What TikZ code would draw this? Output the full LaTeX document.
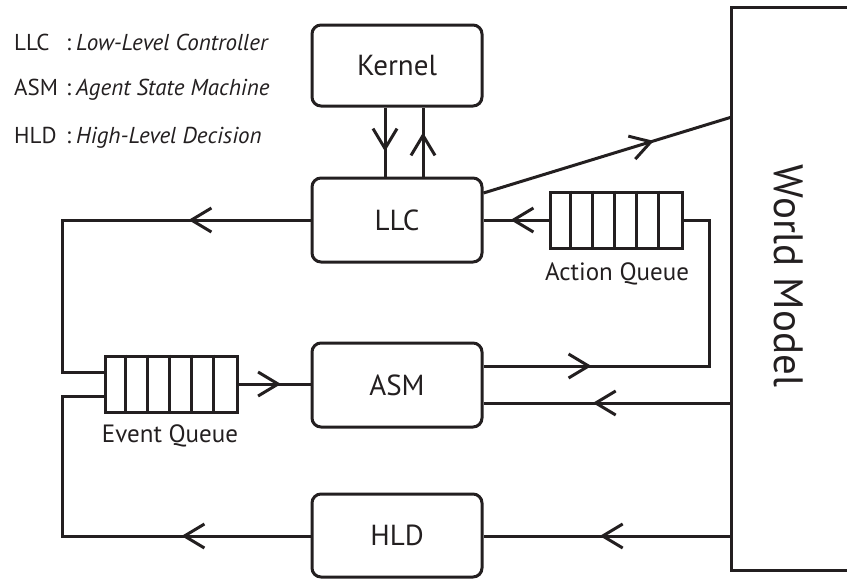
\documentclass[tikz,border=0pt]{standalone}
\usepackage{fontspec}
\setmainfont{PT Sans}
\usetikzlibrary{arrows.meta,decorations.markings}
\definecolor{ink}{HTML}{231F20}
\tikzset{chev/.tip={Straight Barb[length=20pt,width=24pt,line width=3pt]}}
\begin{document}
\begin{tikzpicture}[x=1pt,y=-1pt,
  box/.style={draw=ink, line width=3pt, rounded corners=9pt, minimum width=170pt, minimum height=84pt, inner sep=0pt, text=ink, font=\fontsize{29}{34}\selectfont},
  queue/.style={draw=ink, line width=3pt, minimum width=132pt, minimum height=56pt, inner sep=0pt},
  cell/.style={draw=ink, line width=3pt},
  conn/.style={draw=ink, line width=3pt},
  midarrow/.style={postaction={decorate}, decoration={markings, mark=at position #1 with {\arrow[ink]{chev}}}},
  lbl/.style={text=ink, inner sep=0pt, font=\fontsize{25}{30}\selectfont},
  leg/.style={text=ink, inner sep=0pt, anchor=base west, font=\fontsize{23}{28}\selectfont},
  legi/.style={text=ink, inner sep=0pt, anchor=base west, font=\fontsize{23}{28}\selectfont\itshape}]
\useasboundingbox (0,0) rectangle (847,579);

% legend
\node[leg] (l1) at (14,50) {LLC};
\node[leg] (c1) at (66,50) {:};
\node[legi] (d1) at (76,50) {Low-Level Controller};
\node[leg] (l2) at (14,95) {ASM};
\node[leg] (c2) at (66,95) {:};
\node[legi] (d2) at (76,95) {Agent State Machine};
\node[leg] (l3) at (14,143) {HLD};
\node[leg] (c3) at (66,143) {:};
\node[legi] (d3) at (76,143) {High-Level Decision};

% boxes
\node[box, minimum height=81pt] (kernel) at (397,65.5) {Kernel};
\node[box] (llc) at (397,220) {LLC};
\node[box] (asm) at (397,385) {ASM};
\node[box, minimum height=83pt] (hld) at (397,535.5) {HLD};

% world model
\node[minimum width=115pt, minimum height=562pt, inner sep=0pt] (wm) at (789.5,289) {};
\draw[ink, line width=3pt] ([xshift=5pt]wm.north east) -- (wm.north west) -- (wm.south west) -- ([xshift=5pt]wm.south east);
\node[text=ink, rotate=-90, inner sep=0pt, font=\fontsize{41}{48}\selectfont] (wmtxt) at (789,276) {World Model};

% queues
\node[queue] (aq) at (616,220) {};
\foreach \i in {1,...,5} \draw[cell] ([xshift=\i*22pt]aq.north west) -- ([xshift=\i*22pt]aq.south west);
\node[lbl] (aqt) at (617,274) {Action Queue};
\node[queue] (eq) at (171.5,384) {};
\foreach \i in {1,...,5} \draw[cell] ([xshift=\i*21.8pt]eq.north west) -- ([xshift=\i*21.8pt]eq.south west);
\node[lbl] (eqt) at (170,436) {Event Queue};

\coordinate (aqturn) at (709,366);

% connectors
\draw[conn, midarrow=44pt] (kernel.south -| 385,0) -- (llc.north -| 385,0);
\draw[conn, midarrow=44pt] (llc.north -| 423,0) -- (kernel.south -| 423,0);
\draw[conn, midarrow=178pt] (llc.east |- 0,193) -- (wm.west |- 0,117);
\draw[conn, midarrow=38pt] (aq.west) -- (llc.east |- aq.west);
\draw[conn, midarrow=108pt] (asm.east |- aqturn) -- (aqturn) |- (aq.east);
\draw[conn, midarrow=139pt] (wm.west |- 0,403) -- (asm.east |- 0,403);
\draw[conn, midarrow=42pt] (eq.east) -- (asm.west |- eq.east);
\draw[conn, midarrow=122pt] (llc.west) -- (62,220) -- (62,372) -- (eq.west |- 0,372);
\draw[conn, midarrow=129pt] (hld.west |- 0,536) -- (62,536) -- (62,396) -- (eq.west |- 0,396);
\draw[conn, midarrow=132pt] (wm.west |- 0,536) -- (hld.east |- 0,536);
\end{tikzpicture}
\end{document}
